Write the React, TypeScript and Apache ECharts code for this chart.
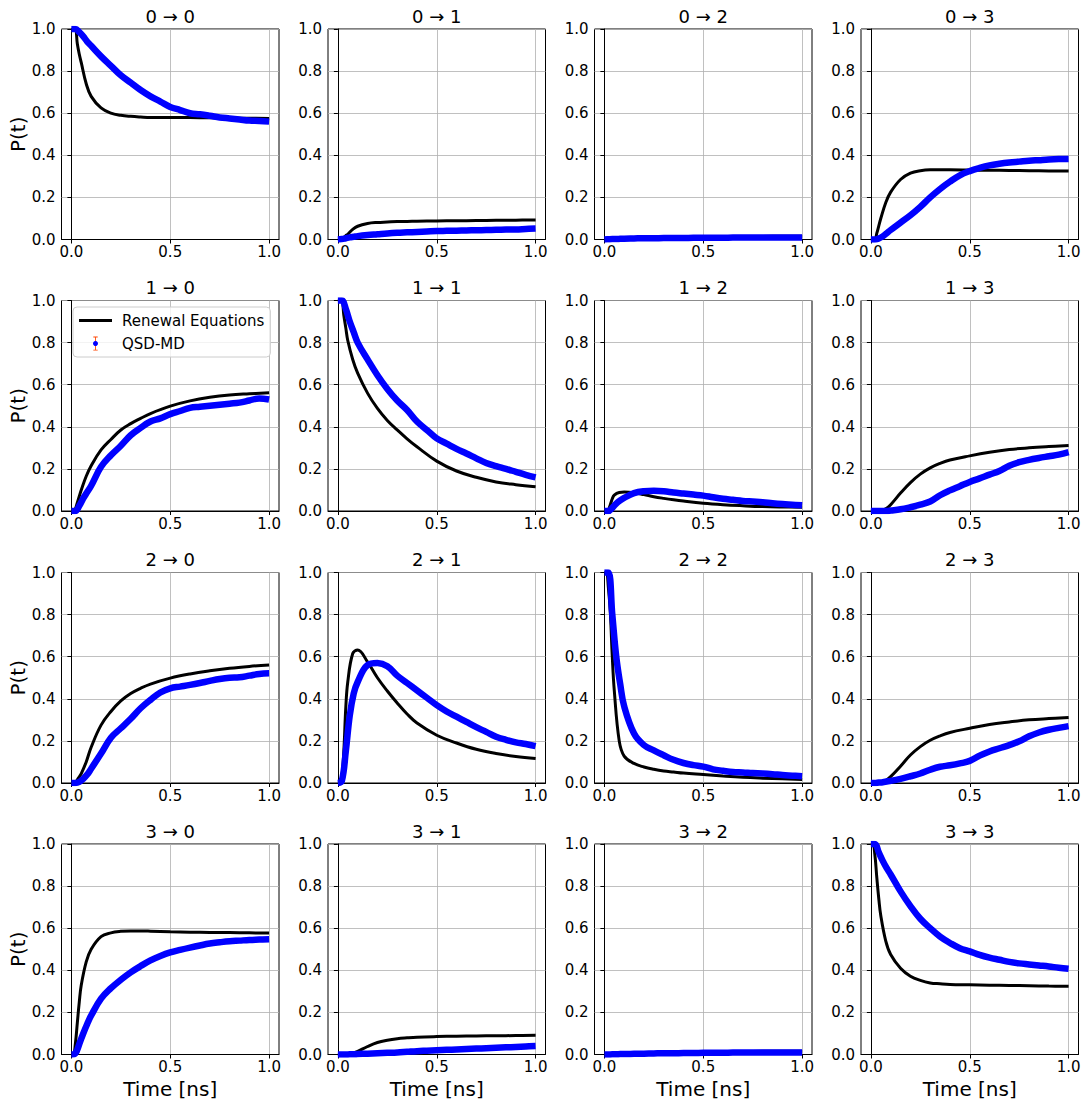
import React, { useEffect, useRef } from 'react';
import * as echarts from 'echarts';

const FONT = '"DejaVu Sans", sans-serif';
const STATES = ['0', '1', '2', '3'];
const X_TICKS = [0, 0.5, 1.0];
const LEGEND_NAMES = ['Renewal Equations', 'QSD-MD'];

// Time grid of the renewal-equation curves (ns)
const TB = [0, 0.01, 0.02, 0.03, 0.04, 0.05, 0.075, 0.1, 0.15, 0.2, 0.25, 0.3, 0.35, 0.4, 0.5, 0.6, 0.7, 0.8, 0.9, 1.0];
// Time grid of the QSD-MD samples (ns)
const TQ = [0, 0.02, 0.04, 0.06, 0.08, 0.1, 0.15, 0.2, 0.25, 0.3, 0.35, 0.4, 0.45, 0.5, 0.55, 0.6, 0.65, 0.7, 0.75, 0.8, 0.85, 0.9, 0.95, 1.0];

// Renewal equations P(t), i -> j
const B00 = [1, 1, 1.0, 0.93, 0.88, 0.84, 0.74, 0.68, 0.625, 0.6, 0.59, 0.585, 0.582, 0.58, 0.58, 0.579, 0.578, 0.577, 0.576, 0.575];
const B01 = [0, 0, 0.003, 0.01, 0.018, 0.025, 0.048, 0.063, 0.076, 0.081, 0.083, 0.085, 0.086, 0.087, 0.088, 0.089, 0.09, 0.091, 0.092, 0.093];
const B02 = [0, 0, 0, 0.001, 0.002, 0.003, 0.005, 0.007, 0.009, 0.011, 0.012, 0.013, 0.0132, 0.0135, 0.014, 0.0143, 0.0146, 0.0148, 0.015, 0.015];
const B03 = [0, 0, 0, 0.03, 0.065, 0.1, 0.175, 0.225, 0.285, 0.315, 0.327, 0.331, 0.331, 0.331, 0.33, 0.329, 0.328, 0.327, 0.326, 0.325];
const B10 = [0, 0, 0.01, 0.04, 0.07, 0.1, 0.165, 0.215, 0.29, 0.34, 0.385, 0.415, 0.44, 0.463, 0.498, 0.523, 0.54, 0.551, 0.557, 0.562];
const B11 = [1, 1, 1.0, 0.93, 0.87, 0.81, 0.72, 0.655, 0.56, 0.487, 0.43, 0.385, 0.343, 0.305, 0.237, 0.19, 0.16, 0.138, 0.125, 0.115];
const B12 = [0, 0, 0.005, 0.03, 0.058, 0.075, 0.088, 0.09, 0.087, 0.078, 0.068, 0.06, 0.053, 0.047, 0.037, 0.03, 0.025, 0.021, 0.019, 0.018];
const B13 = [0, 0, 0, 0, 0, 0.001, 0.01, 0.03, 0.085, 0.135, 0.175, 0.205, 0.226, 0.242, 0.262, 0.279, 0.292, 0.3, 0.306, 0.311];
const B20 = [0, 0, 0.002, 0.015, 0.03, 0.045, 0.1, 0.17, 0.275, 0.34, 0.39, 0.425, 0.45, 0.47, 0.498, 0.518, 0.533, 0.545, 0.554, 0.561];
const B21 = [0, 0, 0.03, 0.15, 0.36, 0.48, 0.615, 0.632, 0.575, 0.5, 0.437, 0.38, 0.328, 0.285, 0.227, 0.19, 0.16, 0.14, 0.126, 0.116];
const B22 = [1, 1, 0.93, 0.81, 0.6, 0.44, 0.2, 0.128, 0.093, 0.076, 0.065, 0.057, 0.052, 0.047, 0.04, 0.033, 0.027, 0.023, 0.02, 0.017];
const B23 = [0, 0, 0, 0.001, 0.002, 0.004, 0.012, 0.03, 0.08, 0.133, 0.173, 0.203, 0.224, 0.24, 0.26, 0.278, 0.29, 0.3, 0.306, 0.311];
const B30 = [0, 0, 0.05, 0.15, 0.25, 0.33, 0.44, 0.5, 0.56, 0.578, 0.585, 0.587, 0.587, 0.586, 0.583, 0.581, 0.58, 0.579, 0.578, 0.577];
const B31 = [0, 0, 0, 0, 0, 0.001, 0.005, 0.015, 0.038, 0.057, 0.068, 0.075, 0.079, 0.082, 0.085, 0.087, 0.088, 0.089, 0.09, 0.091];
const B32 = [0, 0, 0, 0, 0.001, 0.001, 0.002, 0.003, 0.005, 0.008, 0.01, 0.011, 0.0115, 0.012, 0.013, 0.014, 0.014, 0.015, 0.015, 0.015];
const B33 = [1, 1, 0.95, 0.84, 0.74, 0.66, 0.54, 0.475, 0.41, 0.372, 0.352, 0.34, 0.336, 0.333, 0.331, 0.329, 0.328, 0.327, 0.325, 0.324];

// QSD-MD P(t), i -> j
const Q00 = [1, 1, 0.985, 0.965, 0.94, 0.92, 0.87, 0.825, 0.78, 0.745, 0.71, 0.68, 0.655, 0.63, 0.615, 0.6, 0.595, 0.588, 0.58, 0.575, 0.57, 0.565, 0.563, 0.56];
const Q01 = [0, 0.002, 0.006, 0.01, 0.013, 0.016, 0.021, 0.025, 0.029, 0.032, 0.034, 0.036, 0.038, 0.04, 0.041, 0.042, 0.043, 0.044, 0.045, 0.046, 0.047, 0.048, 0.05, 0.052];
const Q02 = [0, 0.001, 0.002, 0.002, 0.003, 0.004, 0.005, 0.006, 0.006, 0.007, 0.007, 0.007, 0.008, 0.008, 0.008, 0.008, 0.009, 0.009, 0.009, 0.009, 0.009, 0.01, 0.01, 0.01];
const Q03 = [0, 0, 0.005, 0.015, 0.03, 0.045, 0.08, 0.115, 0.155, 0.2, 0.24, 0.275, 0.305, 0.325, 0.34, 0.352, 0.36, 0.366, 0.37, 0.374, 0.377, 0.38, 0.382, 0.383];
const Q10 = [0, 0, 0.025, 0.06, 0.09, 0.12, 0.21, 0.265, 0.31, 0.36, 0.395, 0.425, 0.44, 0.46, 0.475, 0.49, 0.495, 0.5, 0.505, 0.51, 0.515, 0.525, 0.535, 0.53];
const Q11 = [1, 1, 0.96, 0.9, 0.85, 0.8, 0.72, 0.645, 0.58, 0.525, 0.48, 0.425, 0.385, 0.345, 0.32, 0.295, 0.273, 0.25, 0.228, 0.213, 0.2, 0.186, 0.172, 0.16];
const Q12 = [0, 0, 0.015, 0.035, 0.05, 0.062, 0.085, 0.094, 0.096, 0.094, 0.088, 0.083, 0.078, 0.073, 0.065, 0.058, 0.053, 0.048, 0.045, 0.042, 0.037, 0.033, 0.03, 0.027];
const Q13 = [0, 0, 0, 0, 0, 0.002, 0.008, 0.018, 0.03, 0.045, 0.075, 0.098, 0.118, 0.138, 0.155, 0.173, 0.19, 0.215, 0.232, 0.243, 0.252, 0.26, 0.268, 0.28];
const Q20 = [0, 0, 0.005, 0.02, 0.04, 0.068, 0.14, 0.215, 0.26, 0.305, 0.355, 0.395, 0.43, 0.45, 0.458, 0.466, 0.475, 0.485, 0.494, 0.5, 0.502, 0.51, 0.518, 0.521];
const Q21 = [0, 0.01, 0.15, 0.32, 0.425, 0.48, 0.56, 0.57, 0.555, 0.51, 0.475, 0.44, 0.405, 0.37, 0.34, 0.315, 0.29, 0.265, 0.243, 0.22, 0.205, 0.193, 0.185, 0.175];
const Q22 = [1, 1, 0.8, 0.6, 0.47, 0.365, 0.235, 0.18, 0.155, 0.132, 0.11, 0.095, 0.085, 0.078, 0.065, 0.058, 0.052, 0.05, 0.047, 0.045, 0.042, 0.038, 0.035, 0.032];
const Q23 = [0, 0, 0.002, 0.004, 0.007, 0.01, 0.02, 0.032, 0.045, 0.063, 0.077, 0.084, 0.093, 0.105, 0.13, 0.15, 0.165, 0.18, 0.198, 0.222, 0.24, 0.253, 0.262, 0.27];
const Q30 = [0, 0.005, 0.05, 0.1, 0.145, 0.185, 0.265, 0.315, 0.355, 0.39, 0.42, 0.447, 0.468, 0.485, 0.497, 0.508, 0.518, 0.527, 0.533, 0.538, 0.541, 0.544, 0.546, 0.548];
const Q31 = [0, 0, 0, 0.001, 0.001, 0.002, 0.004, 0.006, 0.008, 0.01, 0.013, 0.016, 0.018, 0.02, 0.022, 0.024, 0.026, 0.028, 0.03, 0.032, 0.034, 0.036, 0.038, 0.04];
const Q32 = [0, 0, 0.001, 0.001, 0.002, 0.002, 0.003, 0.004, 0.005, 0.006, 0.006, 0.007, 0.007, 0.008, 0.008, 0.008, 0.009, 0.009, 0.009, 0.009, 0.01, 0.01, 0.01, 0.01];
const Q33 = [1, 1, 0.96, 0.92, 0.885, 0.855, 0.775, 0.705, 0.645, 0.6, 0.56, 0.53, 0.505, 0.49, 0.473, 0.46, 0.45, 0.44, 0.433, 0.428, 0.423, 0.418, 0.412, 0.407];

const RENEWAL = [
  [B00, B01, B02, B03],
  [B10, B11, B12, B13],
  [B20, B21, B22, B23],
  [B30, B31, B32, B33],
];
const QSD = [
  [Q00, Q01, Q02, Q03],
  [Q10, Q11, Q12, Q13],
  [Q20, Q21, Q22, Q23],
  [Q30, Q31, Q32, Q33],
];

const LEFTS = [61.5, 328, 594.5, 861];
const TOPS = [29, 300.5, 572.5, 844];
const W = 217.5;
const H = 210.5;

export default function App() {
  const ref = useRef<HTMLDivElement>(null);

  useEffect(() => {
    if (!ref.current) return;
    const chart = echarts.init(ref.current, null, { renderer: 'svg' });

    const grids: any[] = [];
    const xAxes: any[] = [];
    const yAxes: any[] = [];
    const series: any[] = [];
    const graphics: any[] = [];

    for (let r = 0; r < 4; r++) {
      for (let c = 0; c < 4; c++) {
        const idx = r * 4 + c;
        grids.push({
          left: LEFTS[c],
          top: TOPS[r],
          width: W,
          height: H,
          show: true,
          borderColor: '#000',
          borderWidth: 1,
          backgroundColor: 'transparent',
        });
        xAxes.push({
          type: 'value',
          gridIndex: idx,
          min: -0.05,
          max: 1.05,
          name: r === 3 ? 'Time [ns]' : '',
          nameLocation: 'middle',
          nameGap: 24,
          nameTextStyle: { fontSize: 20, color: '#000', fontFamily: FONT },
          axisLine: { show: true, onZero: false, lineStyle: { color: '#000', width: 1 } },
          axisTick: { show: true, customValues: X_TICKS, length: 4, lineStyle: { color: '#000', width: 1 } },
          axisLabel: {
            customValues: X_TICKS,
            formatter: (v: number) => v.toFixed(1),
            fontSize: 15,
            color: '#000',
            margin: 5,
            fontFamily: FONT,
          },
          splitLine: { show: true, lineStyle: { color: '#b0b0b0', width: 0.8 } },
        });
        yAxes.push({
          type: 'value',
          gridIndex: idx,
          min: 0,
          max: 1,
          interval: 0.2,
          name: c === 0 ? 'P(t)' : '',
          nameLocation: 'middle',
          nameGap: 33,
          nameRotate: 90,
          nameTextStyle: { fontSize: 20, color: '#000', fontFamily: FONT },
          axisLine: { show: true, lineStyle: { color: '#000', width: 1 } },
          axisTick: { show: true, length: 4, lineStyle: { color: '#000', width: 1 } },
          axisLabel: {
            formatter: (v: number) => v.toFixed(1),
            fontSize: 15,
            color: '#000',
            margin: 6,
            fontFamily: FONT,
          },
          splitLine: { show: true, lineStyle: { color: '#b0b0b0', width: 0.8 } },
        });
        series.push({
          type: 'line',
          name: LEGEND_NAMES[0],
          xAxisIndex: idx,
          yAxisIndex: idx,
          data: TB.map((t, i) => [t, RENEWAL[r][c][i]]),
          symbol: 'none',
          showSymbol: false,
          smooth: 0.4,
          lineStyle: { color: '#000', width: 3 },
          itemStyle: { color: '#000' },
          z: 2,
        });
        series.push({
          type: 'line',
          name: LEGEND_NAMES[1],
          xAxisIndex: idx,
          yAxisIndex: idx,
          data: TQ.map((t, i) => [t, QSD[r][c][i]]),
          symbol: 'none',
          showSymbol: false,
          smooth: 0.4,
          lineStyle: { color: '#0000ff', width: 6.5 },
          itemStyle: { color: '#0000ff' },
          z: 3,
        });
        graphics.push({
          type: 'text',
          x: LEFTS[c] + W / 2,
          y: TOPS[r] - 13,
          style: {
            text: `${STATES[r]} \u2192 ${STATES[c]}`,
            fontSize: 18,
            fontFamily: FONT,
            fill: '#000',
            align: 'center',
            verticalAlign: 'middle',
          },
        });
      }
    }

    graphics.push({
      type: 'circle',
      z: 100,
      shape: { cx: 95.5, cy: 343.5, r: 2.5 },
      style: { fill: '#0000ff' },
    });

    chart.setOption({
      animation: false,
      backgroundColor: '#fff',
      grid: grids,
      xAxis: xAxes,
      yAxis: yAxes,
      series,
      legend: {
        show: true,
        orient: 'vertical',
        left: 73,
        top: 307,
        padding: [6, 6, 6, 6],
        itemGap: 8,
        itemWidth: 33,
        itemHeight: 14,
        backgroundColor: 'rgba(255,255,255,0.8)',
        borderColor: '#cccccc',
        borderWidth: 1,
        borderRadius: 4,
        selectedMode: false,
        textStyle: { fontSize: 15, color: '#000', fontFamily: FONT, padding: [0, 0, 0, 5] },
        data: [
          { name: LEGEND_NAMES[0], icon: 'path://M0,0H33V3H0Z', itemStyle: { color: '#000', borderWidth: 0 } },
          { name: LEGEND_NAMES[1], icon: 'path://M0,0H5V1H3V15H5V16H0V15H2V1H0Z', itemStyle: { color: '#ff4500', borderWidth: 0 } },
        ],
      },
      graphic: graphics,
    });

    return () => chart.dispose();
  }, []);

  return (
    <div
      ref={ref}
      style={{ position: 'absolute', left: 0, top: 0, width: 1088, height: 1107, background: '#fff' }}
    />
  );
}
